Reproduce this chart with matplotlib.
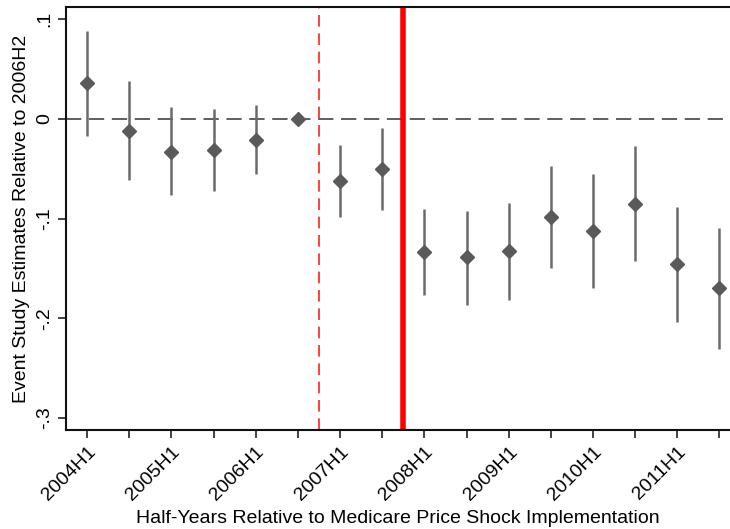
import matplotlib
matplotlib.use('Agg')
import matplotlib.pyplot as plt
import numpy as np

# half-year periods, 2006H2 is the omitted reference period
periods = ['2004H1', '2004H2', '2005H1', '2005H2', '2006H1', '2006H2',
           '2007H1', '2007H2', '2008H1', '2008H2', '2009H1', '2009H2',
           '2010H1', '2010H2', '2011H1', '2011H2']
estimate = [0.036, -0.012, -0.033, -0.031, -0.021, 0.0,
            -0.062, -0.050, -0.134, -0.139, -0.133, -0.098,
            -0.113, -0.085, -0.146, -0.170]
ci_low = [-0.017, -0.061, -0.076, -0.072, -0.055, 0.0,
          -0.098, -0.091, -0.177, -0.187, -0.182, -0.150,
          -0.170, -0.143, -0.204, -0.231]
ci_high = [0.088, 0.038, 0.012, 0.010, 0.014, 0.0,
           -0.026, -0.009, -0.090, -0.092, -0.084, -0.047,
           -0.055, -0.027, -0.088, -0.110]
y_ticks = [0.1, 0.0, -0.1, -0.2, -0.3]
y_tick_labels = ['.1', '0', '-.1', '-.2', '-.3']
announce_line = 5.5   # between 2006H2 and 2007H1
implement_line = 7.5  # between 2007H2 and 2008H1

plt.rcParams['font.family'] = ['Liberation Sans', 'DejaVu Sans']

fig = plt.figure(figsize=(7.3, 5.29), dpi=100)
ax = fig.add_axes([66 / 730, (529 - 430) / 529, 1 - 66 / 730, 423 / 529])

x = np.arange(len(periods))
grey = '#5a5a5a'

ax.axhline(0, color='#333333', lw=1.1, ls=(0, (10, 5)), zorder=1)
ax.axvline(announce_line, color='#ff2020', lw=1.2, ls=(0, (7, 4)), zorder=1)
ax.axvline(implement_line, color='#ff0000', lw=4, zorder=1)

has_ci = [i for i in x if ci_high[i] != ci_low[i]]
ax.vlines([x[i] for i in has_ci], [ci_low[i] for i in has_ci],
          [ci_high[i] for i in has_ci], color='#6a6a6a', lw=1.8, zorder=2)
ax.plot(x, estimate, ls='none', marker='D', ms=7, color=grey,
        markeredgecolor=grey, zorder=3)

ax.set_xlim(-0.5, 15.25)
ax.set_ylim(-0.312, 0.112)

ax.set_xticks(x)
ax.set_xticklabels([p if i % 2 == 0 else '' for i, p in enumerate(periods)],
                   rotation=45, ha='right', rotation_mode='anchor', fontsize=14)
ax.set_yticks(y_ticks)
ax.set_yticklabels(y_tick_labels, rotation=90, va='center', fontsize=14)
ax.tick_params(axis='both', length=6, width=1.2, color='#222222')

for side in ['left', 'bottom', 'top']:
    ax.spines[side].set_linewidth(1.5)
    ax.spines[side].set_color('#111111')
ax.spines['right'].set_visible(False)

ax.set_xlabel('Half-Years Relative to Medicare Price Shock Implementation',
              fontsize=14)
ax.set_ylabel('Event Study Estimates Relative to 2006H2', fontsize=14)
ax.xaxis.set_label_coords(0.5, -0.188)
ax.yaxis.set_label_coords(-0.054, 0.5)

fig.savefig('out.png', dpi=100)
